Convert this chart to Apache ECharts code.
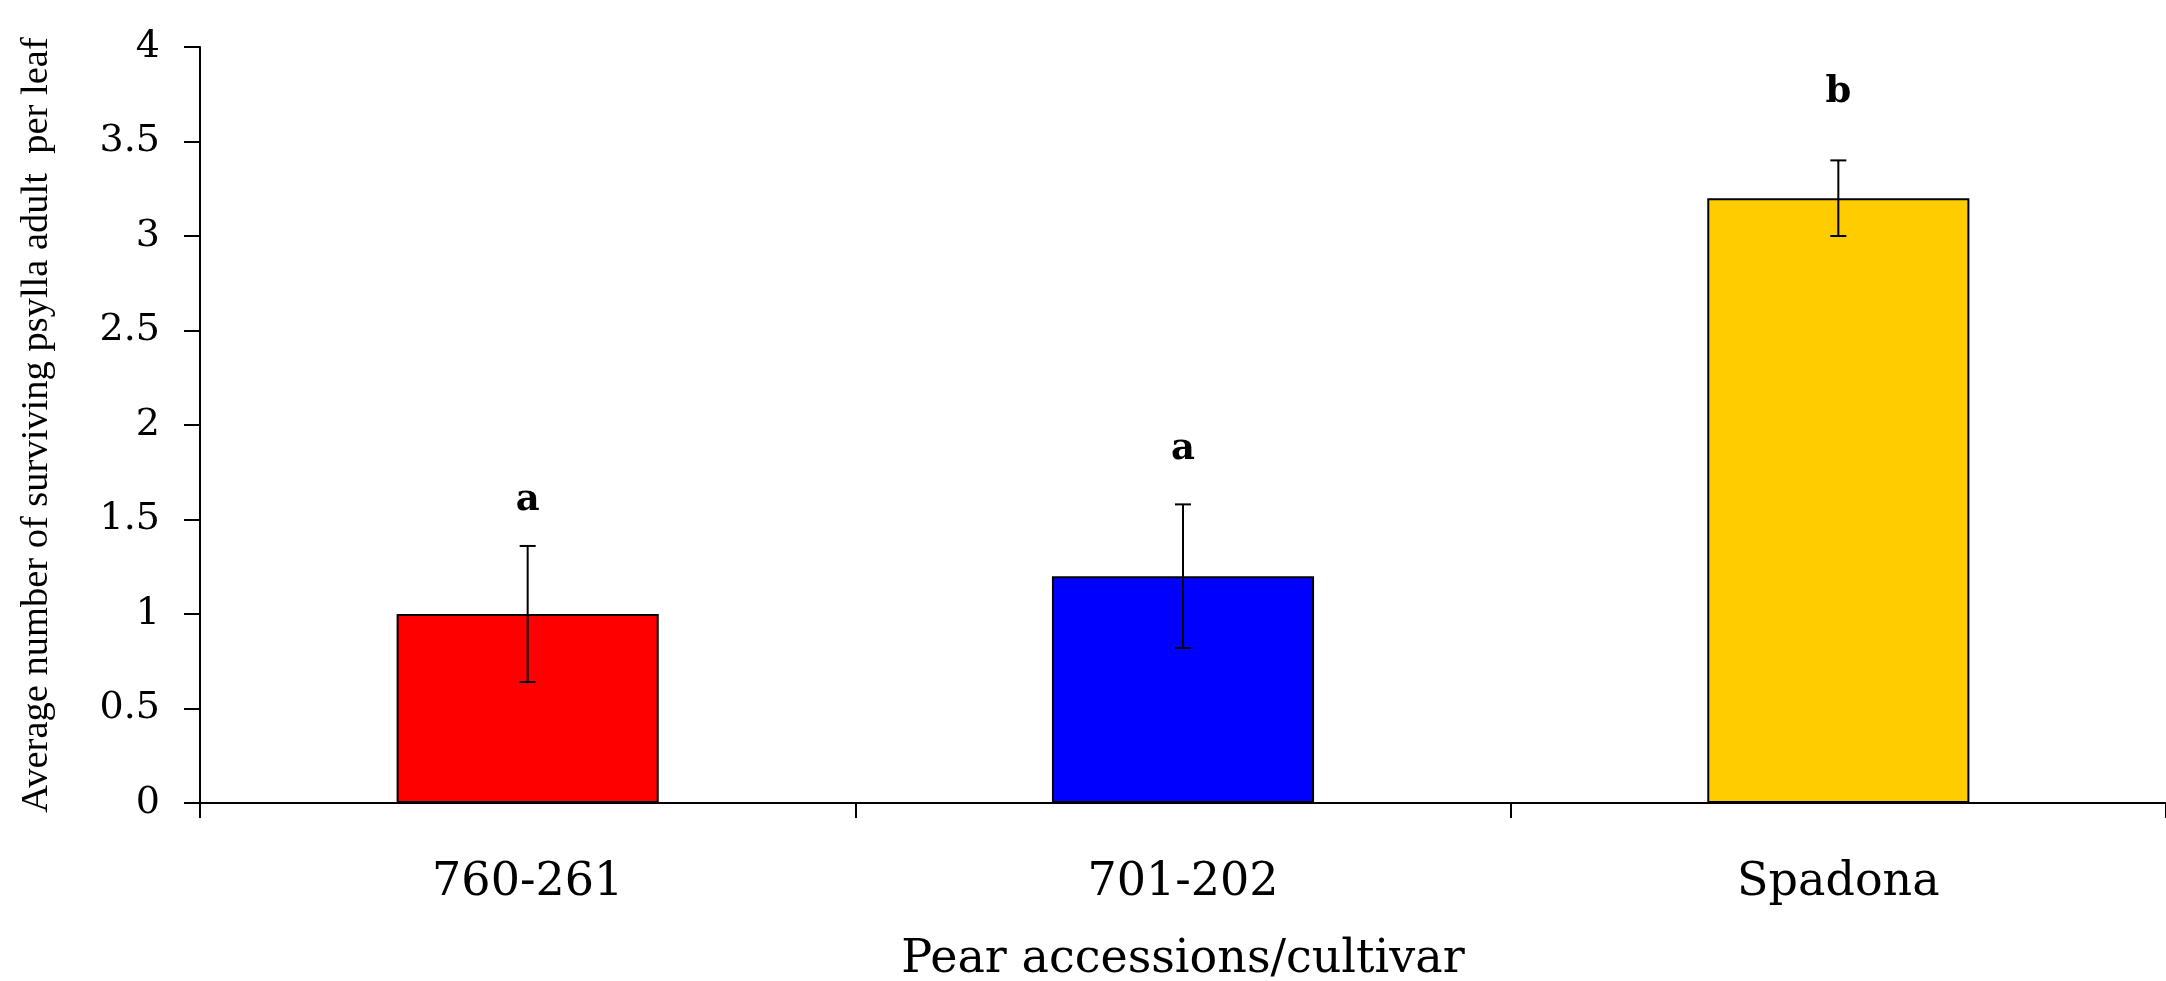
<!DOCTYPE html>
<html>
<head>
<meta charset="utf-8">
<script src="https://cdn.jsdelivr.net/npm/echarts@6/dist/echarts.min.js"></script>
<style>html,body{margin:0;padding:0;background:#fff;}#c{width:2166px;height:981px;}</style>
</head>
<body>
<div id="c"></div>
<script>
const categories = ['760-261', '701-202', 'Spadona'];
const means = [1.0, 1.2, 3.2];
const errors = [0.36, 0.38, 0.2];
const letters = ['a', 'a', 'b'];
const letterY = [1.6, 1.87, 3.76];
const barColors = ['#FF0000', '#0000FF', '#FFCC00'];
const yTicks = { min: 0, max: 4, interval: 0.5 };

const chart = echarts.init(document.getElementById('c'), null, { renderer: 'canvas' });
const serif = 'DejaVu Serif';
chart.setOption({
  animation: false,
  backgroundColor: '#ffffff',
  grid: { left: 200, right: 0, top: 47, bottom: 178, containLabel: false, outerBoundsMode: 'none' },
  xAxis: {
    type: 'category',
    data: categories,
    name: 'Pear accessions/cultivar',
    nameLocation: 'middle',
    nameGap: 134,
    nameTextStyle: { fontFamily: serif, fontSize: 46, lineHeight: 46, color: '#000' },
    axisLine: { lineStyle: { color: '#000', width: 2 } },
    axisTick: { show: true, length: 15, lineStyle: { color: '#000', width: 2 } },
    axisLabel: { fontFamily: serif, fontSize: 46, color: '#000', margin: 57 },
    splitLine: { show: false }
  },
  yAxis: {
    type: 'value',
    min: yTicks.min, max: yTicks.max, interval: yTicks.interval,
    name: 'Average number of surviving psylla adult  per leaf',
    nameLocation: 'middle',
    nameGap: 144,
    nameTextStyle: { fontFamily: 'Liberation Serif', fontSize: 38.5, color: '#000' },
    axisLine: { show: true, lineStyle: { color: '#000', width: 2 } },
    axisTick: { show: true, length: 16, lineStyle: { color: '#000', width: 2 } },
    axisLabel: { fontFamily: serif, fontSize: 38, color: '#000', margin: 40 },
    splitLine: { show: false }
  },
  series: [
    {
      type: 'bar',
      data: means.map((v, i) => ({ value: v, itemStyle: { color: barColors[i] } })),
      barWidth: '40%',
      itemStyle: { borderColor: '#000', borderWidth: 2 }
    },
    {
      type: 'custom',
      data: means.map((v, i) => [i, v - errors[i], v + errors[i]]),
      renderItem: function (params, api) {
        const lo = api.coord([api.value(0), api.value(1)]);
        const hi = api.coord([api.value(0), api.value(2)]);
        const x = lo[0], hw = 8;
        const st = { stroke: '#000', lineWidth: 2 };
        return {
          type: 'group',
          children: [
            { type: 'line', shape: { x1: x, y1: lo[1], x2: x, y2: hi[1] }, style: st },
            { type: 'line', shape: { x1: x - hw, y1: lo[1], x2: x + hw, y2: lo[1] }, style: st },
            { type: 'line', shape: { x1: x - hw, y1: hi[1], x2: x + hw, y2: hi[1] }, style: st }
          ]
        };
      },
      z: 10
    },
    {
      type: 'custom',
      data: letterY.map((v, i) => [i, v, letters[i]]),
      renderItem: function (params, api) {
        const p = api.coord([api.value(0), api.value(1)]);
        return {
          type: 'text',
          x: p[0], y: p[1],
          style: { text: letters[params.dataIndex], fontFamily: serif, fontSize: 37, fontWeight: 'bold', fill: '#000', align: 'center', verticalAlign: 'middle' }
        };
      },
      z: 10
    }
  ]
});
</script>
</body>
</html>
